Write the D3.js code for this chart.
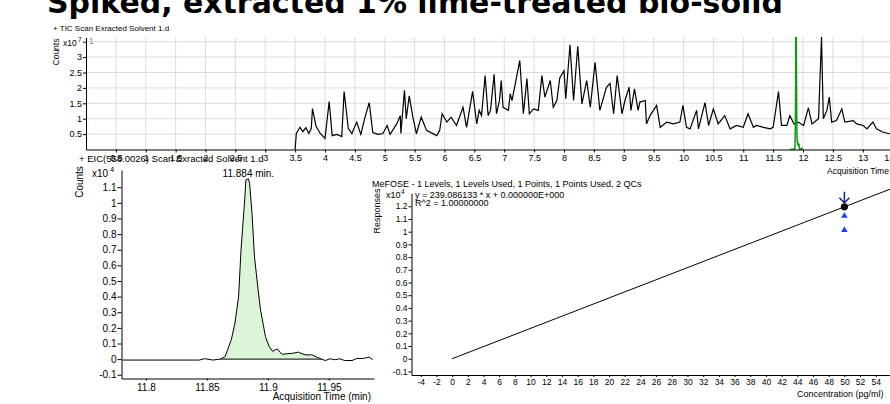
<!DOCTYPE html>
<head>
<meta charset="utf-8" />
<script src="https://d3js.org/d3.v7.min.js"></script>
<style>
    body { margin: 0; background: #fff; }
    svg { font-family: "Liberation Sans", Arial, sans-serif; }
    .axis path, .axis line { stroke: #000; }
    .axis text { fill: #000; }
</style>
</head>
<body>
<script>
    var width = 890, height = 404;

    var title = "Spiked, extracted 1% lime-treated bio-solid";

    // TIC trace (time in min, counts x10^7)
    var ticTime = [3.50,3.52,3.58,3.63,3.68,3.73,3.77,3.79,3.85,3.92,
        4.00,4.07,4.12,4.20,4.28,4.32,4.39,4.45,4.53,4.60,
        4.67,4.74,4.80,4.89,4.97,5.04,5.09,5.20,5.26,5.27,
        5.33,5.36,5.41,5.47,5.53,5.61,5.70,5.87,5.92,5.96,
        6.04,6.11,6.20,6.31,6.37,6.47,6.54,6.58,6.62,6.68,
        6.73,6.77,6.83,6.87,6.92,6.95,6.98,7.07,7.10,7.13,
        7.26,7.32,7.38,7.42,7.49,7.57,7.63,7.68,7.77,7.82,
        7.88,7.93,8.00,8.03,8.10,8.16,8.23,8.30,8.38,8.44,
        8.52,8.60,8.71,8.77,8.83,8.89,8.97,9.02,9.09,9.12,
        9.18,9.24,9.27,9.36,9.38,9.44,9.55,9.61,9.72,9.83,
        9.94,9.99,10.05,10.11,10.22,10.25,10.36,10.42,10.50,10.58,
        10.69,10.78,10.89,11.00,11.08,11.17,11.22,11.34,11.45,11.50,
        11.59,11.64,11.73,11.78,11.85,11.92,12.01,12.09,12.15,12.26,
        12.31,12.34,12.40,12.44,12.48,12.56,12.65,12.70,12.84,12.90,
        13.01,13.07,13.17,13.23,13.34,13.46,13.60];
    var ticCounts = [0,0.52,0.72,0.58,0.71,0.52,0.68,1.33,0.75,0.52,
        0.36,1.56,0.45,0.49,0.42,1.88,0.68,0.52,0.89,0.49,
        1.05,1.52,0.55,0.49,0.52,0.78,0.49,0.83,1.10,0.52,
        1.92,1.00,1.74,1.05,0.51,1.05,0.62,0.45,0.62,1.16,
        0.89,1.05,0.78,1.37,0.72,1.89,0.83,1.27,1.10,2.40,
        1.10,1.27,2.44,1.16,1.59,2.24,1.37,1.27,1.81,1.59,
        2.89,1.16,2.30,1.16,1.32,1.27,2.40,1.70,2.24,1.37,
        1.59,2.33,2.56,1.65,3.40,1.59,3.35,1.48,2.24,1.37,
        2.83,1.27,2.02,2.15,1.16,2.40,1.16,1.59,2.02,1.27,
        1.97,1.27,1.54,1.59,0.83,1.10,1.43,0.72,0.89,0.83,
        0.89,1.43,0.72,0.67,1.27,0.67,1.52,0.78,1.32,0.83,
        1.10,0.67,0.78,0.72,1.16,0.72,0.78,0.72,0.67,0.72,
        1.88,0.78,0.78,1.10,0.83,0.89,0.78,1.35,0.83,1.00,
        3.65,1.00,1.27,1.70,0.89,0.94,1.32,0.89,0.94,0.83,
        0.78,0.67,0.89,0.67,0.56,0.51,0.48];

    // EIC 558.0026 (time in min, counts x10^4)
    var eicTime = [11.781,11.844,11.848,11.855,11.861,11.865,11.867,11.870,11.873,11.876,
        11.878,11.881,11.882,11.884,11.885,11.887,11.889,11.892,11.894,11.896,
        11.898,11.901,11.904,11.906,11.908,11.910,11.912,11.915,11.921,11.925,
        11.928,11.932,11.936,11.940,11.944,11.947,11.951,11.955,11.959,11.963,
        11.969,11.973,11.978,11.983,11.986];
    var eicCounts = [-0.006,-0.006,0.003,-0.006,0,0.017,0.06,0.124,0.23,0.40,
        0.70,1.02,1.146,1.154,1.125,0.933,0.656,0.443,0.315,0.23,
        0.145,0.081,0.049,0.06,0.064,0.043,0.03,0.034,0.038,0.045,
        0.034,0.026,0.028,0.013,0,-0.009,0.002,-0.004,0.002,-0.009,
        -0.009,0.004,0.004,0.013,-0.004];
    var peakStart = 11.861, peakEnd = 11.944, peakRT = "11.884 min.";

    // calibration (conc pg/ml, responses x10^4)
    var calConc = [50], calResp = [1.1954];
    var qcConc = [50, 50], qcResp = [1.124, 1.013];
    var slope = 239.086133, intercept = 0;
    var calTitle = "MeFOSE - 1 Levels, 1 Levels Used, 1 Points, 1 Points Used, 2 QCs";
    var eqText = "y = 239.086133 * x  + 0.000000E+000";
    var r2Text = "R^2 = 1.00000000";

    var ticXTicks = d3.range(1, 28).map(function(i) { return i * 0.5; });
    var ticYTicks = [0.5, 1, 1.5, 2, 2.5, 3, 3.5];
    var eicXTicks = [11.8, 11.85, 11.9, 11.95];
    var eicYTicks = d3.range(-1, 12).map(function(i) { return i / 10; });
    var calXTicks = d3.range(-4, 55, 2);
    var calYTicks = d3.range(-1, 13).map(function(i) { return i / 10; });

    function fmt(d) { return String(+d.toFixed(2)); }

    var svg = d3.select("body").append("svg")
        .attr("width", width).attr("height", height);

    // big title, its top is cut off by the page edge
    svg.append("text")
        .attr("x", 47).attr("y", 13)
        .attr("font-family", "DejaVu Sans, sans-serif")
        .attr("font-weight", "bold")
        .attr("font-size", 30)
        .attr("textLength", 736)
        .attr("lengthAdjust", "spacingAndGlyphs")
        .text(title);

    // ---------- top panel: TIC ----------
    var x1 = d3.scaleLinear().domain([0, 14]).range([86, 86 + 14 * 59.75]);
    var y1 = d3.scaleLinear().domain([0, 3.636]).range([149.5, 37.5]);
    var yG = d3.scaleLinear().domain([0, 0.8]).range([149.5, 37.5]);

    svg.append("clipPath").attr("id", "clipTop")
        .append("rect").attr("x", 86).attr("y", 37).attr("width", 810).attr("height", 113);

    var grid = svg.append("g").attr("stroke", "#dcdcdc").attr("stroke-width", 1);
    grid.selectAll(".gx").data(ticXTicks).join("line")
        .attr("x1", function(d) { return x1(d); }).attr("x2", function(d) { return x1(d); })
        .attr("y1", 37).attr("y2", 149.5);
    grid.selectAll(".gy").data(ticYTicks).join("line")
        .attr("class", "gy")
        .attr("x1", 86).attr("x2", width)
        .attr("y1", function(d) { return y1(d); }).attr("y2", function(d) { return y1(d); });

    var ticLine = d3.line()
        .x(function(d, i) { return x1(ticTime[i]); })
        .y(function(d) { return y1(d); });
    svg.append("path").datum(ticCounts)
        .attr("clip-path", "url(#clipTop)")
        .attr("fill", "none").attr("stroke", "#000").attr("stroke-width", 1.2)
        .attr("d", ticLine);

    var eicTopLine = d3.line()
        .x(function(d, i) { return x1(eicTime[i]); })
        .y(function(d) { return yG(Math.max(0, d)); });
    svg.append("path").datum(eicCounts)
        .attr("clip-path", "url(#clipTop)")
        .attr("fill", "none").attr("stroke", "#119911").attr("stroke-width", 1.5)
        .attr("d", eicTopLine);

    svg.append("g").attr("class", "axis")
        .attr("transform", "translate(0,149.5)")
        .call(d3.axisBottom(x1).tickValues(ticXTicks).tickFormat(fmt).tickSize(3).tickPadding(2).tickSizeOuter(0))
        .attr("font-size", 9);
    svg.append("g").attr("class", "axis")
        .attr("transform", "translate(86,0)")
        .call(d3.axisLeft(y1).tickValues(ticYTicks)
            .tickFormat(function(d) { return d == 3.5 ? "" : fmt(d); })
            .tickSize(3).tickPadding(1).tickSizeOuter(0))
        .attr("font-size", 9);

    svg.append("text").attr("x", 53).attr("y", 31).attr("font-size", 8)
        .text("+ TIC Scan Exracted Solvent 1.d");
    svg.append("text").attr("transform", "translate(59,52) rotate(-90)")
        .attr("text-anchor", "middle").attr("font-size", 8.5).text("Counts");
    svg.append("text").attr("x", 63).attr("y", 46).attr("font-size", 8.5).text("x10");
    svg.append("text").attr("x", 78).attr("y", 42).attr("font-size", 6.5).text("7");
    svg.append("text").attr("x", 89).attr("y", 44).attr("font-size", 8.5).attr("fill", "#888").text("1");
    svg.append("text").attr("x", 827).attr("y", 174).attr("font-size", 8.5)
        .text("Acquisition Time (min)");

    // ---------- bottom left: EIC ----------
    var x2 = d3.scaleLinear().domain([11.78, 11.987]).range([121.5, 374]);
    var y2 = d3.scaleLinear().domain([-0.124, 1.21]).range([378.5, 170]);

    var inPeak = eicTime.map(function(t) { return t >= peakStart && t <= peakEnd; });
    var eicArea = d3.area()
        .defined(function(d, i) { return inPeak[i]; })
        .x(function(d, i) { return x2(eicTime[i]); })
        .y0(y2(0))
        .y1(function(d) { return y2(d); });
    svg.append("path").datum(eicCounts)
        .attr("fill", "#dcf5d8").attr("stroke", "none")
        .attr("d", eicArea);
    svg.append("line")
        .attr("x1", x2(peakStart)).attr("x2", x2(peakEnd))
        .attr("y1", y2(0)).attr("y2", y2(0))
        .attr("stroke", "#000").attr("stroke-width", 1);

    var eicLine = d3.line()
        .x(function(d, i) { return x2(eicTime[i]); })
        .y(function(d) { return y2(d); });
    svg.append("path").datum(eicCounts)
        .attr("fill", "none").attr("stroke", "#000").attr("stroke-width", 1)
        .attr("d", eicLine);

    svg.append("g").attr("class", "axis")
        .attr("transform", "translate(0,378.5)")
        .call(d3.axisBottom(x2).tickValues(eicXTicks).tickFormat(fmt).tickSize(2).tickPadding(3).tickSizeOuter(0))
        .attr("font-size", 10);
    svg.append("g").attr("class", "axis")
        .attr("transform", "translate(121.5,0)")
        .call(d3.axisLeft(y2).tickValues(eicYTicks).tickFormat(fmt).tickSize(4).tickPadding(1).tickSizeOuter(0))
        .attr("font-size", 10);

    svg.append("text").attr("x", 79).attr("y", 162).attr("font-size", 9.5)
        .text("+ EIC(558.0026) Scan Exracted Solvent 1.d");
    svg.append("text").attr("transform", "translate(83,182) rotate(-90)")
        .attr("text-anchor", "middle").attr("font-size", 10).text("Counts");
    svg.append("text").attr("x", 92).attr("y", 177).attr("font-size", 10).text("x10");
    svg.append("text").attr("x", 110).attr("y", 172).attr("font-size", 7.5).text("4");
    svg.append("text").attr("x", x2(11.884)).attr("y", 177).attr("text-anchor", "middle")
        .attr("font-size", 10).text(peakRT);
    svg.append("text").attr("x", 371).attr("y", 400).attr("text-anchor", "end")
        .attr("font-size", 10).text("Acquisition Time (min)");

    // ---------- bottom right: calibration ----------
    var x3 = d3.scaleLinear().domain([-5.175, 56]).range([411.5, 411.5 + 61.175 * 7.846]);
    var y3 = d3.scaleLinear().domain([-0.128, 1.302]).range([375, 193.3]);

    var fitX = [0, 56];
    svg.append("path")
        .datum(fitX)
        .attr("fill", "none").attr("stroke", "#000").attr("stroke-width", 1)
        .attr("d", d3.line()
            .x(function(d) { return x3(d); })
            .y(function(d) { return y3((slope * d + intercept) / 1e4); }));

    svg.selectAll(".qc").data(qcConc).join("path")
        .attr("class", "qc")
        .attr("transform", function(d, i) { return "translate(" + x3(d) + "," + y3(qcResp[i]) + ")"; })
        .attr("d", d3.symbol().type(d3.symbolTriangle).size(18))
        .attr("fill", "#1a3cff");

    svg.selectAll(".cal").data(calConc).join("circle")
        .attr("class", "cal")
        .attr("cx", function(d) { return x3(d); })
        .attr("cy", function(d, i) { return y3(calResp[i]); })
        .attr("r", 3.6).attr("fill", "#000");

    svg.selectAll(".arrow").data(calConc).join("path")
        .attr("class", "arrow")
        .attr("d", function(d, i) {
            var ax = x3(d), ay = y3(calResp[i]) - 4;
            return "M" + ax + "," + (ay - 11) + "V" + ay + "M" + (ax - 5) + "," + (ay - 5) +
                "L" + ax + "," + ay + "L" + (ax + 5) + "," + (ay - 5);
        })
        .attr("fill", "none").attr("stroke", "#0a1a8c").attr("stroke-width", 1.4);

    svg.append("g").attr("class", "axis")
        .attr("transform", "translate(0,375)")
        .call(d3.axisBottom(x3).tickValues(calXTicks).tickFormat(fmt).tickSize(2).tickPadding(2).tickSizeOuter(0))
        .attr("font-size", 8.5);
    svg.append("g").attr("class", "axis")
        .attr("transform", "translate(411.5,0)")
        .call(d3.axisLeft(y3).tickValues(calYTicks).tickFormat(fmt).tickSize(3).tickPadding(1).tickSizeOuter(0))
        .attr("font-size", 8.5);

    svg.append("text").attr("x", 372).attr("y", 187).attr("font-size", 9).text(calTitle);
    svg.append("text").attr("transform", "translate(380,211) rotate(-90)")
        .attr("text-anchor", "middle").attr("font-size", 9).text("Responses");
    svg.append("text").attr("x", 386).attr("y", 198).attr("font-size", 9).text("x10");
    svg.append("text").attr("x", 401).attr("y", 194).attr("font-size", 6.5).text("4");
    svg.append("text").attr("x", 415).attr("y", 198).attr("font-size", 9).text(eqText);
    svg.append("text").attr("x", 415).attr("y", 206).attr("font-size", 9).text(r2Text);
    svg.append("text").attr("x", 797).attr("y", 397).attr("font-size", 9)
        .text("Concentration (pg/ml)");
</script>
</body>
